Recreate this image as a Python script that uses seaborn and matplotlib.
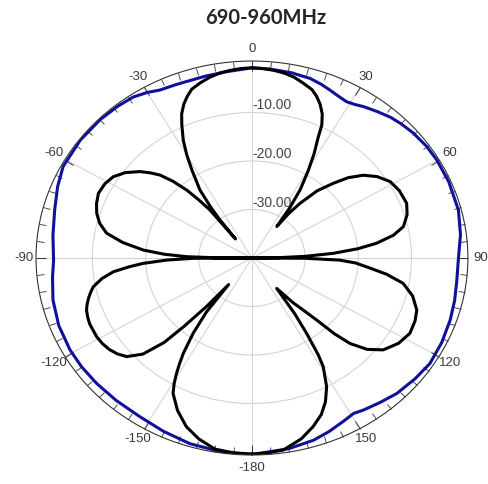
import numpy as np
import matplotlib
matplotlib.use("Agg")
import matplotlib.pyplot as plt
import seaborn as sns

# pattern data (angle in degrees, gain in dB)
black_deg = [-180, -175, -170, -165, -160.5, -156, -152, -150.5, -149.2, -148, -146.7,
             -144.5, -142.4, -141.3, -139.5, -137.8, -136.5, -134, -130.8, -128, -125,
             -122, -119, -114, -111.5, -109, -107, -105, -103, -101.2, -98.5, -96.2,
             -94.5, -93.1, -91.5, -90.3, -90, -89.5, -88.7, -87.3, -85.4, -82.5, -79.4,
             -76, -72.5, -69, -65.2, -61, -57.3, -53.5, -49.8, -47.5, -45.3, -43.2,
             -41.2, -39.8, -38.6, -38.2, -37.5, -36.5, -34.9, -32, -30, -28, -27,
             -25.7, -24, -22, -20, -18, -15, -12, -9, -6, -3, 0,
             3, 6, 9, 12, 15, 18, 20, 22, 24, 25.6, 26.6, 28.5, 30.5, 32.8, 34.5,
             35.7, 37, 38.7, 41.5, 44.8, 47.5, 50.8, 54.5, 58.8, 63.5, 68.8, 73,
             77.2, 80, 82.6, 84.5, 86.4, 88, 89.2, 90, 90.3, 91.5, 93, 94.8, 97.5,
             100.4, 104.5, 109.1, 113, 117.6, 122.5, 127.5, 131, 133.7, 135.2, 136.4,
             138, 140, 143.4, 145, 146.5, 148, 149.1, 152.1, 155, 158, 161.7, 166,
             171.5, 176, 180]
black_db = [0.4, 0.3, 0.0, -1.4, -3.1, -5.6, -8.4, -10.3, -12.3, -14.3, -16.5,
            -21, -26, -33, -27, -21, -16, -11.5, -8.9, -7.9, -7.2,
            -6.8, -6.6, -6.6, -6.8, -7.1, -7.6, -8.2, -8.9, -9.6, -11.5, -13.8,
            -16.8, -19.5, -24, -29, -40, -33, -27.7, -23.5, -19.5, -15.5, -12.2,
            -10.5, -9.4, -8.7, -8.2, -8.4, -9.0, -10.4, -12.4, -14, -15.7, -18.3,
            -21.4, -24.5, -27.3, -35, -30.1, -27, -22.9, -18.8, -15.5, -12.5, -11.3,
            -9.6, -7.5, -5.8, -4.5, -3.4, -2.6, -1.9, -1.4, -1.1, -0.9, -0.8,
            -0.9, -1.1, -1.4, -1.9, -2.7, -3.5, -4.5, -5.8, -7.5, -9.6, -12.2, -15.5, -19.2,
            -23.3, -27.5,
            -32, -28.5, -25.6, -21.5, -18.3, -15.5, -13, -11.1, -9.6, -9.0, -8.8, -9.5,
            -10.8, -13, -16.4, -20, -24.7, -30, -35, -40, -30, -23.5, -20.5, -18.4, -14.5,
            -11.1, -8.8, -7.2, -6.7, -6.5, -7.3, -8.9, -11.3, -14.5, -18, -22.3,
            -25.5, -28, -32.2, -26, -21.4, -16.5, -13.9, -10, -7.3, -5.2, -3.4, -1.6,
            0.0, 0.3, 0.4]

blue_deg = [-180, -172, -163, -155, -147, -139, -131.5, -125, -119, -111, -103, -96,
            -90.6, -83, -75, -68, -62, -53, -45, -39, -34, -30, -26.5, -22, -18.7,
            -13, -7, 0, 5, 11, 16.4, 20, 22.9, 26, 28.9, 31.5, 33.9, 38, 42, 45.5,
            49.7, 55, 59.8, 67, 75.7, 83, 90.6, 97, 103, 108.9, 116, 123, 129, 135.7,
            141, 146.2, 149.2, 153, 158, 162.9, 170, 180]
blue_db = [0.5, 0.4, 0.0, -0.6, -1.1, -1.1, -1.0, -0.9, -0.9, -1.1, -1.6, -2.3,
           -2.7, -2.3, -1.6, -0.6, 0.2, 0.4, 0.35, 0.2, 0.0, -0.6, -1.3, -1.5, -1.6,
           -1.5, -1.3, -0.8, -0.9, -1.1, -1.4, -1.9, -2.4, -2.9, -3.2, -2.9, -2.4, -1.7, -1.0, -0.6,
           -0.2, 0.1, 0.2, 0.2, 0.06, -0.5, -1.2, -1.2, -0.9, -0.6, -0.3, -0.1, -0.5, -1.0,
           -1.7, -2.3, -2.7, -2.2, -1.4, -0.7, -0.1, 0.5]

angle_ticks = [-180, -150, -120, -90, -60, -30, 0, 30, 60, 90, 120, 150]
ring_values = [-30, -20, -10]
ring_labels = ["-30.00", "-20.00", "-10.00"]

sns.set_style("white")
plt.rcParams['font.family'] = ['Liberation Sans', 'DejaVu Sans']

fig = plt.figure(figsize=(4.88, 4.84), dpi=100)
ax = fig.add_axes([0.0738, 0.0599, 0.885, 0.814], projection='polar')
ax.set_aspect('auto')
ax.set_theta_zero_location('N')
ax.set_theta_direction(-1)

sns.lineplot(x=np.radians(blue_deg), y=blue_db, ax=ax, sort=False,
             color='#10109c', lw=2.2)
sns.lineplot(x=np.radians(black_deg), y=black_db, ax=ax, sort=False,
             color='black', lw=2.2)

ax.set_xlim(-np.pi, np.pi)
ax.set_ylim(-40, 0.6)
ax.set_xlabel('')
ax.set_ylabel('')

ax.set_xticks(np.radians(angle_ticks))
ax.set_xticklabels([str(a) for a in angle_ticks], fontsize=9.5, color='#3a3a3a')
ax.set_xticks(np.radians(np.arange(-180, 180, 5)), minor=True)
ax.tick_params(axis='x', which='both', bottom=False, top=True)
ax.tick_params(axis='x', which='major', direction='in', length=7, width=0.7,
               color='#333333', pad=2)
ax.tick_params(axis='x', which='minor', direction='in', length=5, width=0.6,
               color='#333333')
ax.set_yticks(ring_values)
ax.set_yticklabels([])
ax.grid(True, which='major', color='#d4d4d4', lw=0.8)
ax.spines['polar'].set_color('#333333')
ax.spines['polar'].set_linewidth(0.8)

for v, lab in zip(ring_values, ring_labels):
    ax.text(0, v, lab, fontsize=10, color='#444444', ha='left', va='bottom')

fig.text(266 / 488, 0.963, '690-960MHz', fontsize=14.5, fontweight='bold',
         family=['Lato', 'DejaVu Sans'], ha='center', va='center')

fig.savefig('out.png', dpi=100)
